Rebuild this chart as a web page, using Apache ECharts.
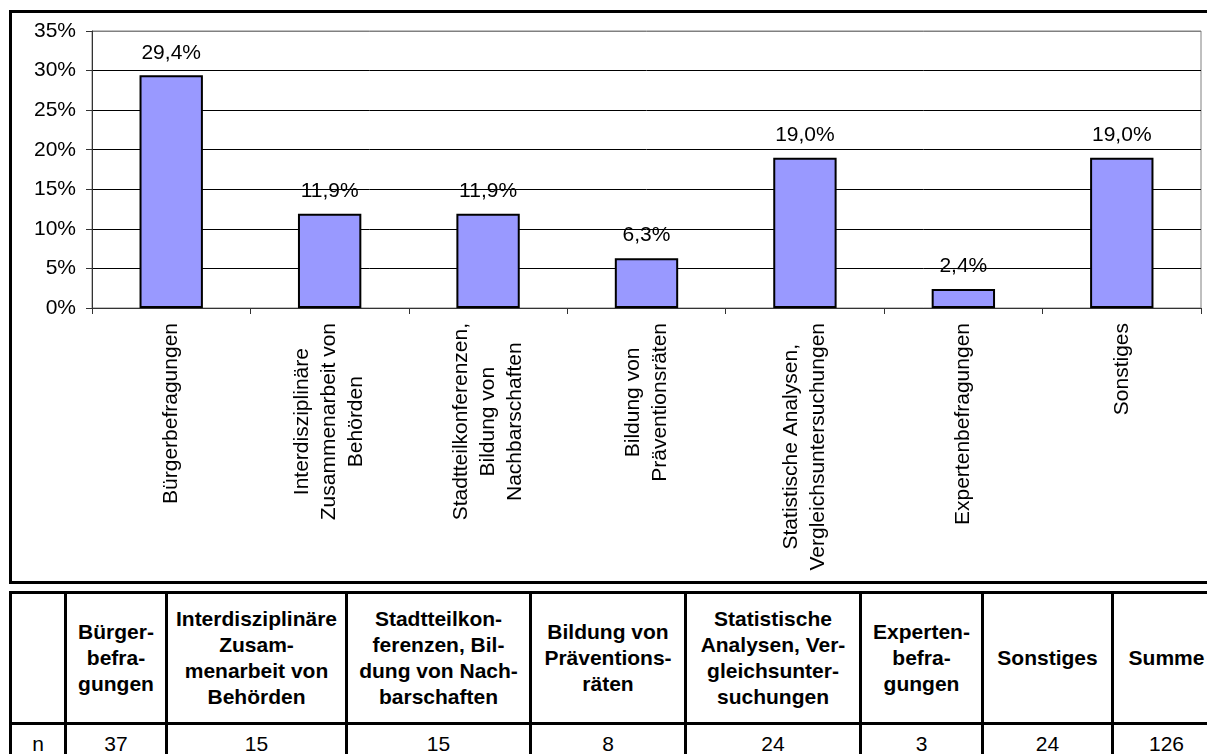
<!DOCTYPE html>
<html>
<head>
<meta charset="utf-8">
<script src="https://cdn.jsdelivr.net/npm/echarts@6/dist/echarts.min.js"></script>
<style>
  html, body { margin: 0; padding: 0; background: #fff; overflow: hidden; width: 1207px; height: 754px; }
  body { position: relative; font-family: 'Liberation Sans', Arial, sans-serif; }
  /* Rahmen um das Diagramm */
  .frame {
    position: absolute; left: 9px; top: 10px;
    width: 1260px; height: 568px;
    border: 3px solid #000;
  }
  #chart { position: absolute; left: 0; top: 0; width: 1207px; height: 590px; }
  /* Tabelle unter dem Diagramm */
  .tbl {
    position: absolute; left: 9px; top: 591px;
    display: grid;
    grid-template-columns: 55px 101px 180px 184px 155px 175px 122px 130px 108px;
    grid-template-rows: 131px 42px;
    border-left: 3px solid #000;
    border-top: 3px solid #000;
  }
  .tbl div {
    box-sizing: border-box;
    border-right: 3px solid #000;
    border-bottom: 3px solid #000;
    display: flex; align-items: center; justify-content: center;
    text-align: center;
    font-size: 21px; line-height: 26px; color: #000;
    white-space: pre;
  }
  .tbl .head { font-weight: bold; }
  .tbl .val { align-items: flex-start; padding-top: 6px; }
</style>
</head>
<body>
<div class="frame"></div>
<div id="chart"></div>
<div class="tbl" id="tbl"></div>
<script>
// Kategorien (Achsenbeschriftung)
const categories = [
  'Bürgerbefragungen',
  'Interdisziplinäre\nZusammenarbeit von\nBehörden',
  'Stadtteilkonferenzen,\nBildung von\nNachbarschaften',
  'Bildung von\nPräventionsräten',
  'Statistische Analysen,\nVergleichsuntersuchungen',
  'Expertenbefragungen',
  'Sonstiges'
]
// Anteile in %
const shares = [29.4, 11.9, 11.9, 6.3, 19.0, 2.4, 19.0]

// Tabelle
const tableHeads = [
  '',
  'Bürger-\nbefra-\ngungen',
  'Interdisziplinäre\nZusam-\nmenarbeit von\nBehörden',
  'Stadtteilkon-\nferenzen, Bil-\ndung von Nach-\nbarschaften',
  'Bildung von\nPräventions-\nräten',
  'Statistische\nAnalysen, Ver-\ngleichsunter-\nsuchungen',
  'Experten-\nbefra-\ngungen',
  'Sonstiges',
  'Summe'
]
const rowLabel = 'n'
const counts = [37, 15, 15, 8, 24, 3, 24, 126]

const FONT = "'Liberation Sans', Arial, sans-serif"

const chart = echarts.init(document.getElementById('chart'))
chart.setOption({
  animation: false,
  grid: {
    left: 92, right: 6, top: 31, bottom: 282,
    show: true, borderColor: '#808080', borderWidth: 1
  },
  xAxis: {
    type: 'category',
    data: categories,
    axisLine: { lineStyle: { color: '#333', width: 1 } },
    axisTick: { show: true, length: 6, lineStyle: { color: '#333' } },
    axisLabel: {
      interval: 0,
      rotate: 90,
      margin: 15,
      color: '#000',
      fontFamily: FONT,
      fontSize: 21,
      // Zeilen mittig ausrichten
      formatter: v => v.split('\n').map(s => '{c|' + s + '}').join('\n'),
      rich: { c: { align: 'center', fontSize: 21, lineHeight: 27, fontFamily: FONT, color: '#000' } }
    }
  },
  yAxis: {
    type: 'value',
    min: 0, max: 35, interval: 5,
    axisLine: { show: true, lineStyle: { color: '#333' } },
    axisTick: { show: true, length: 6, lineStyle: { color: '#333' } },
    axisLabel: {
      margin: 16,
      color: '#000',
      fontFamily: FONT,
      fontSize: 21,
      formatter: '{value}%'
    },
    splitLine: {
      lineStyle: {
        color: ['#000', '#000', '#000', '#000', '#000', '#000', '#000', '#808080'],
        width: 1
      }
    }
  },
  series: [{
    type: 'bar',
    data: shares,
    barWidth: '40%',
    itemStyle: { color: '#9999ff', borderColor: '#000', borderWidth: 2 },
    label: {
      show: true,
      position: 'top',
      distance: 12,
      color: '#000',
      fontFamily: FONT,
      fontSize: 21,
      formatter: p => p.value.toFixed(1).replace('.', ',') + '%'
    }
  }]
})

// Tabelle aufbauen
const tbl = document.getElementById('tbl')
tableHeads.forEach(h => {
  const d = document.createElement('div')
  d.className = 'head'
  d.textContent = h
  tbl.appendChild(d)
})
;[rowLabel].concat(counts).forEach(v => {
  const d = document.createElement('div')
  d.className = 'val'
  d.textContent = v
  tbl.appendChild(d)
})
</script>
</body>
</html>
